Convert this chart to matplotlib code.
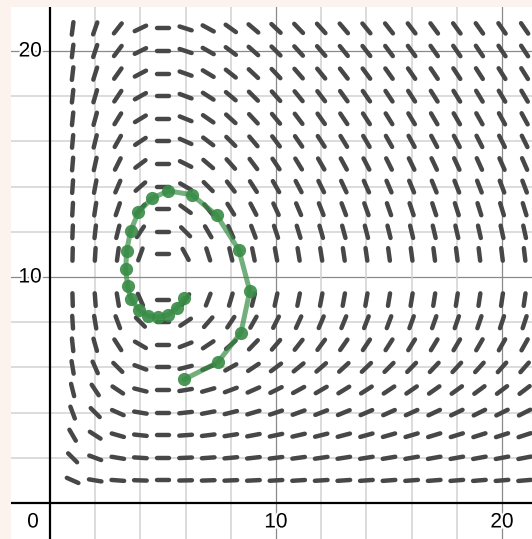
import numpy as np
import matplotlib.pyplot as plt
from matplotlib.collections import LineCollection
import matplotlib.patheffects as pe

# slope field dy/dx = y*(x - x0) / (x*(y0 - y)), nullclines
x0, y0 = 5, 10
field_x = np.arange(1, 22)
field_y = np.arange(1, 22)

# green trajectory points
traj_x = [5.94, 7.42, 8.45, 8.84, 8.36, 7.37, 6.27, 5.24, 4.50, 3.91, 3.57,
          3.39, 3.35, 3.43, 3.58, 3.94, 4.32, 4.76, 5.21, 5.60, 5.93]
traj_y = [5.47, 6.22, 7.54, 9.38, 11.19, 12.74, 13.64, 13.81, 13.48, 12.86, 12.05,
          11.16, 10.34, 9.58, 9.03, 8.54, 8.29, 8.22, 8.32, 8.61, 9.06]

x_ticks = [10, 20]
y_ticks = [10, 20]

fig = plt.figure(figsize=(5.32, 5.39), dpi=100, facecolor='#fcf3ee')
ax = fig.add_axes([11/532, 0, 521/532, 532/539])
ax.set_facecolor('white')
ax.set_xlim(-1.726, 21.327)
ax.set_ylim(-1.593, 21.947)
for s in ax.spines.values():
    s.set_visible(False)
ax.set_xticks([])
ax.set_yticks([])

# grid
for g in range(2, 22, 2):
    major = g % 10 == 0
    c = '#8a8a8a' if major else '#d2d2d2'
    lw = 0.9 if major else 1.1
    ax.axvline(g, color=c, lw=lw, zorder=1)
    ax.axhline(g, color=c, lw=lw, zorder=1)
ax.axvline(0, color='black', lw=1.6, zorder=2)
ax.axhline(0, color='black', lw=1.6, zorder=2)

# slope field dashes
half = 0.28
segs = []
for xv in field_x:
    for yv in field_y:
        den = xv * (y0 - yv)
        num = yv * (xv - x0)
        if den == 0:
            continue
        th = np.arctan(num / den)
        dx, dy = half * np.cos(th), half * np.sin(th)
        segs.append([(xv - dx, yv - dy), (xv + dx, yv + dy)])
lc = LineCollection(segs, colors='#474747', linewidths=3.2, capstyle='round', zorder=3)
ax.add_collection(lc)

# trajectory
ax.plot(traj_x, traj_y, color='#388c46', lw=3.6, alpha=0.7, zorder=4,
        solid_capstyle='round')
ax.plot(traj_x, traj_y, 'o', color='#388c46', ms=9.5, alpha=0.9, mec='none', zorder=5)

# labels
halo = [pe.withStroke(linewidth=3, foreground='white')]
fs = 15
for t in y_ticks:
    ax.text(-0.36, t, str(t), ha='right', va='center', fontsize=fs,
            family='Liberation Sans', path_effects=halo, zorder=6)
for t in x_ticks:
    ax.text(t, -0.84, str(t), ha='center', va='center', fontsize=fs,
            family='Liberation Sans', path_effects=halo, zorder=6)
ax.text(-0.75, -0.84, '0', ha='center', va='center', fontsize=fs,
        family='Liberation Sans', path_effects=halo, zorder=6)

fig.savefig('out.png', dpi=100, facecolor=fig.get_facecolor())
